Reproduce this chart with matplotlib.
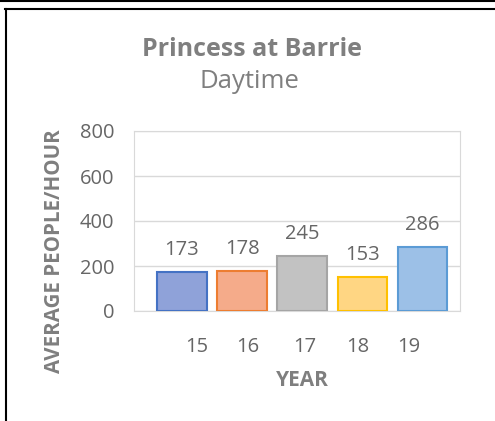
import matplotlib.pyplot as plt
from matplotlib.lines import Line2D

plt.rcParams['font.family'] = ['Open Sans', 'DejaVu Sans']

# data
years = ['15', '16', '17', '18', '19']
people = [173, 178, 245, 153, 286]
fills = ['#8FA2D9', '#F5AB8A', '#C2C2C2', '#FFD683', '#9CC0E7']
edges = ['#4472C4', '#ED7D31', '#A5A5A5', '#FFC000', '#5B9BD5']
label_pos = [0.25, 1.1, 2.05, 2.92, 3.77]  # tick labels sit off-centre in the original

grey = '#7F7F7F'

fig = plt.figure(figsize=(4.95, 4.21), dpi=100)
ax = fig.add_axes([134 / 495, 1 - 311 / 421, (460 - 134) / 495, 180 / 421])

x = range(len(years))
bars = ax.bar(x, people, width=0.82, color=fills, edgecolor=edges, linewidth=1.5, zorder=3)
for b, v in zip(bars, people):
    ax.text(b.get_x() + b.get_width() / 2, v + 52, str(v), ha='center', va='bottom',
            fontsize=14.5, color='#666666')

ax.set_ylim(0, 800)
ax.set_xlim(-0.8, 4.63)
ax.set_yticks([0, 200, 400, 600, 800])
ax.set_xticks(label_pos)
ax.set_xticklabels(years)
ax.tick_params(length=0, labelsize=14.5, labelcolor='#666666')
ax.tick_params(axis='y', pad=14)
ax.tick_params(axis='x', pad=19)
ax.grid(axis='y', color='#D9D9D9', linewidth=1, zorder=0)
for s in ax.spines.values():
    s.set_color('#D9D9D9')

ax.set_ylabel('AVERAGE PEOPLE/HOUR', fontsize=14.8, fontweight='bold', color=grey)
ax.yaxis.set_label_coords((55 - 134) / 326, (311 - 251) / 180)
ax.set_xlabel('YEAR', fontsize=15, fontweight='bold', color=grey)
ax.xaxis.set_label_coords((302 - 134) / 326, -(380 - 311) / 180)
ax.xaxis.label.set_va('center')
ax.yaxis.label.set_va('center')

fig.text(252 / 495, 1 - 50 / 421, 'Princess at Barrie', ha='center', va='center',
         fontsize=18, fontweight='bold', color=grey)
fig.text(249 / 495, 1 - 81 / 421, 'Daytime', ha='center', va='center',
         fontsize=18.5, color=grey)

# frame lines of the screenshot
fig.add_artist(Line2D([0, 1], [1 - 0.5 / 421, 1 - 0.5 / 421], color='black', lw=1.5))
fig.add_artist(Line2D([5 / 495, 1], [1 - 8.5 / 421, 1 - 8.5 / 421], color='black', lw=1.5))
fig.add_artist(Line2D([5.5 / 495, 5.5 / 495], [0, 1 - 8.5 / 421], color='black', lw=1.5))

fig.savefig('out.png', dpi=100)
